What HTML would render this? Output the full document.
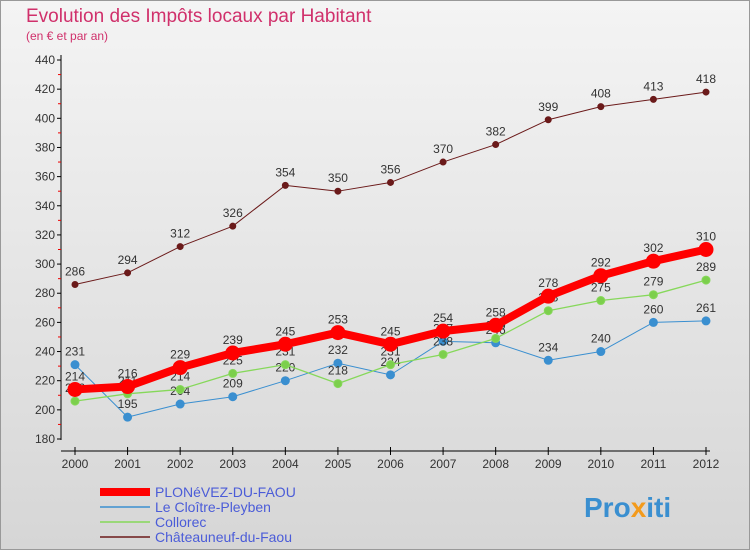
<!DOCTYPE html>
<html><head><meta charset="utf-8"><style>
body{margin:0;width:750px;height:550px;overflow:hidden;font-family:"Liberation Sans",sans-serif}
</style></head><body>
<svg width="750" height="550" xmlns="http://www.w3.org/2000/svg">
<defs><linearGradient id="bg" x1="0" y1="0" x2="0" y2="1"><stop offset="0" stop-color="#f4f4f4"/><stop offset="1" stop-color="#d6d6d6"/></linearGradient></defs>
<rect x="0.5" y="0.5" width="749" height="549" fill="url(#bg)" stroke="#999"/>
<text x="26" y="22" font-size="19" fill="#d0306b">Evolution des Impôts locaux par Habitant</text>
<text x="26" y="40" font-size="12" fill="#d0306b">(en € et par an)</text>
<g id="axes"></g><g id="series"></g><g id="legend"></g>
<text x="584" y="517" font-size="28" font-weight="bold" fill="#3a8fd0">Pro<tspan fill="#f39a1b">x</tspan>iti</text>
</svg>
<script>
const years=[2000,2001,2002,2003,2004,2005,2006,2007,2008,2009,2010,2011,2012];
const plonevez=[214,216,229,239,245,253,245,254,258,278,292,302,310];
const cloitre=[231,195,204,209,220,232,224,247,246,234,240,260,261];
const collorec=[206,211,214,225,231,218,231,238,249,268,275,279,289];
const chateauneuf=[286,294,312,326,354,350,356,370,382,399,408,413,418];
const yTicks=[180,200,220,240,260,280,300,320,340,360,380,400,420,440];
const seriesNames=["PLONéVEZ-DU-FAOU","Le Cloître-Pleyben","Collorec","Châteauneuf-du-Faou"];
const NS="http://www.w3.org/2000/svg";
function X(i){return 75+i*(706-75)/(years.length-1);}
function Y(v){return 439-(v-180)*(439-60)/(440-180);}
function mk(t,a,p){const e=document.createElementNS(NS,t);for(const k in a)e.setAttribute(k,a[k]);p.appendChild(e);return e;}
const ax=document.getElementById('axes');
let e=mk('line',{x1:61,y1:55,x2:61,y2:440,stroke:'#000','stroke-width':1},ax);


e=mk('line',{x1:61,y1:451,x2:710,y2:451,stroke:'#000','stroke-width':1},ax);


yTicks.forEach(v=>{
 mk('line',{x1:57,y1:Y(v),x2:61,y2:Y(v),stroke:'#000'},ax);
 if(v<440) mk('line',{x1:58,y1:Y(v+10),x2:61,y2:Y(v+10),stroke:'#e00'},ax);
 const t=mk('text',{x:55,y:Y(v)+4,'font-size':12,fill:'#333','text-anchor':'end'},ax);t.textContent=v;
 
 
});
years.forEach((y,i)=>{
 mk('line',{x1:X(i),y1:447,x2:X(i),y2:455,stroke:'#000'},ax);
 const t=mk('text',{x:X(i),y:468,'font-size':12,fill:'#333','text-anchor':'middle'},ax);t.textContent=y;
 
 
});
const sg=document.getElementById('series');
function draw(data,color,w,r,name,dot){
 const g=mk('g',{},sg);
 
 
 mk('polyline',{points:data.map((v,i)=>X(i)+','+Y(v)).join(' '),fill:'none',stroke:color,'stroke-width':w,'stroke-linejoin':'round'},g);
 data.forEach((v,i)=>{
  const c=mk('circle',{cx:X(i),cy:Y(v),r:r,fill:dot,stroke:color,'stroke-width':1},g);
  
  
  const t=mk('text',{x:X(i),y:Y(v)-9,'font-size':12,fill:'#333','text-anchor':'middle'},g);t.textContent=v;
  
  
 });
}
draw(chateauneuf,'#6b1a1a',1,3,'series-chateauneuf','#6b1a1a');
draw(cloitre,'#3a8fd0',1,4,'series-cloitre','#3a8fd0');
draw(collorec,'#86d85a',1.3,4,'series-collorec','#7ccf4c');
draw(plonevez,'#ff0000',8,7,'series-plonevez','#ff0000');
const lg=document.getElementById('legend');
const lc=['#ff0000','#3a8fd0','#86d85a','#6b1a1a'],lw=[8,1.5,1.5,1.5];
seriesNames.forEach((n,i)=>{
 const y=492+i*15;
 const g=mk('g',{},lg);
 
 
 mk('line',{x1:100,y1:y,x2:150,y2:y,stroke:lc[i],'stroke-width':lw[i]},g);
 const t=mk('text',{x:155,y:y+5,'font-size':14,fill:'#4b5cd8'},g);t.textContent=n;
});
</script>
</body></html>
